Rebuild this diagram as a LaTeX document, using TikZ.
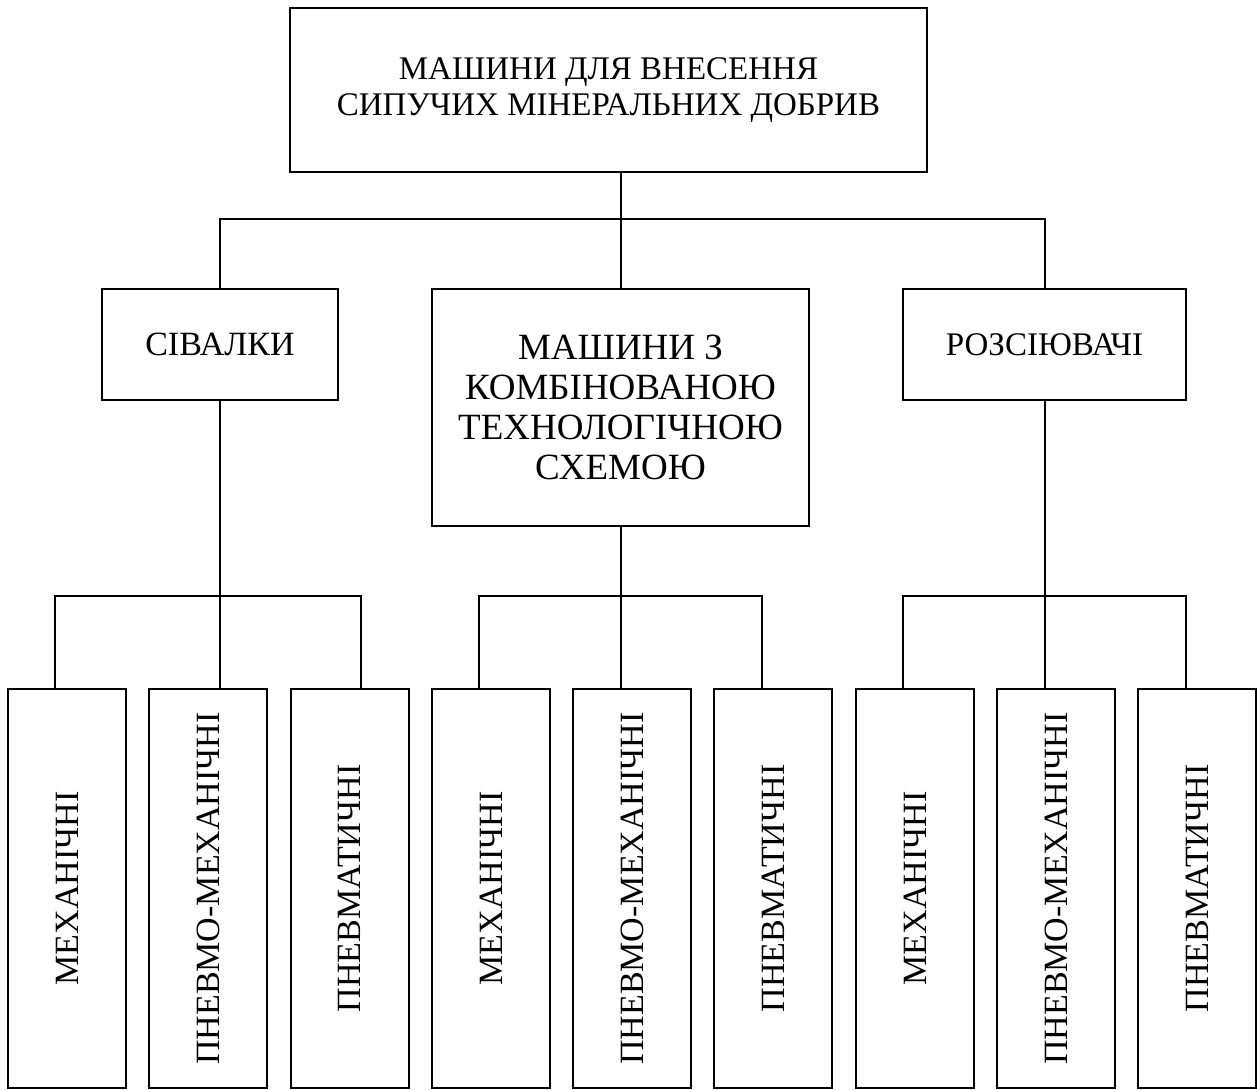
\documentclass[tikz,border=0pt]{standalone}
\usepackage{fontspec}
\setmainfont{Liberation Serif}
\begin{document}
\begin{tikzpicture}[x=0.5pt,y=-0.5pt,
  box/.style={draw=black,line width=1pt,inner sep=0pt,align=center,font=\fontsize{17}{20}\selectfont},
  low/.style={box,minimum width=59pt,minimum height=199.5pt},
  link/.style={draw=black,line width=1pt}]
\useasboundingbox (0,0) rectangle (1257,1090);
% top
\node[box,minimum width=318.5pt,minimum height=82pt,font=\fontsize{16.5}{18}\selectfont] (top) at (608.5,90) {МАШИНИ ДЛЯ ВНЕСЕННЯ\\СИПУЧИХ МІНЕРАЛЬНИХ ДОБРИВ};
% second level
\node[box,minimum width=118pt,minimum height=55.5pt] (siv) at (220,344.5) {СІВАЛКИ};
\node[box,minimum width=188.5pt,minimum height=118.5pt,font=\fontsize{18.5}{20}\selectfont] (mid) at (620.5,407.5) {МАШИНИ З\\КОМБІНОВАНОЮ\\ТЕХНОЛОГІЧНОЮ\\СХЕМОЮ};
\node[box,minimum width=141.5pt,minimum height=55.5pt,font=\fontsize{16.5}{18}\selectfont] (roz) at (1044.5,344.5) {РОЗСІЮВАЧІ};
% bottom
\node[low] (b1) at (67,888.5) {\rotatebox{90}{МЕХАНІЧНІ}};
\node[low] (b2) at (208,888.5) {\rotatebox{90}{ПНЕВМО-МЕХАНІЧНІ}};
\node[low] (b3) at (349.5,888.5) {\rotatebox{90}{ПНЕВМАТИЧНІ}};
\node[low] (b4) at (491,888.5) {\rotatebox{90}{МЕХАНІЧНІ}};
\node[low] (b5) at (632,888.5) {\rotatebox{90}{ПНЕВМО-МЕХАНІЧНІ}};
\node[low] (b6) at (773,888.5) {\rotatebox{90}{ПНЕВМАТИЧНІ}};
\node[low] (b7) at (915,888.5) {\rotatebox{90}{МЕХАНІЧНІ}};
\node[low] (b8) at (1056,888.5) {\rotatebox{90}{ПНЕВМО-МЕХАНІЧНІ}};
\node[low] (b9) at (1197,888.5) {\rotatebox{90}{ПНЕВМАТИЧНІ}};
% bus coordinates
\coordinate (t) at (621,172);
\coordinate (busL) at (220,219);
\coordinate (busC) at (621,219);
\coordinate (busR) at (1045,219);
\coordinate (g1a) at (55,596);
\coordinate (g1b) at (220,596);
\coordinate (g1c) at (361,596);
\coordinate (g2a) at (479,596);
\coordinate (g2b) at (620.5,596);
\coordinate (g2c) at (762,596);
\coordinate (g3a) at (903,596);
\coordinate (g3b) at (1045,596);
\coordinate (g3c) at (1186,596);
% top links
\draw[link] (t) -- (busC |- mid.north);
\draw[link] (busL |- siv.north) -- (busL) -- (busR) -- (busR |- roz.north);
% group buses
\draw[link] (siv.south) -- (g1b);
\draw[link] (g1a |- b1.north) -- (g1a) -- (g1c) -- (g1c |- b3.north);
\draw[link] (g1b) -- (g1b |- b2.north);
\draw[link] (mid.south) -- (g2b);
\draw[link] (g2a |- b4.north) -- (g2a) -- (g2c) -- (g2c |- b6.north);
\draw[link] (g2b) -- (g2b |- b5.north);
\draw[link] (roz.south -| g3b) -- (g3b);
\draw[link] (g3a |- b7.north) -- (g3a) -- (g3c) -- (g3c |- b9.north);
\draw[link] (g3b) -- (g3b |- b8.north);
\end{tikzpicture}
\end{document}
